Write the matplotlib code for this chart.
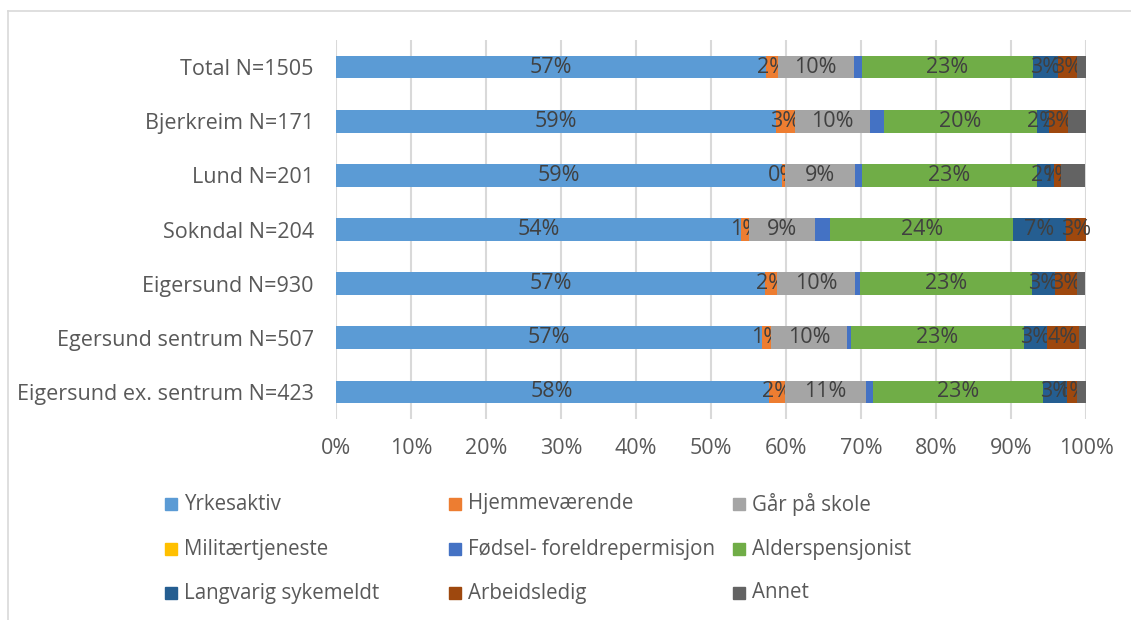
import matplotlib.pyplot as plt
from matplotlib.lines import Line2D
from matplotlib.patches import Rectangle

plt.rcParams['font.family'] = ['Open Sans', 'DejaVu Sans']

# Kategorier (nederst til øverst i grafen)
omraader = ["Eigersund ex. sentrum N=423", "Egersund sentrum N=507", "Eigersund N=930",
            "Sokndal N=204", "Lund N=201", "Bjerkreim N=171", "Total N=1505"]

serier = ["Yrkesaktiv", "Hjemmeværende", "Går på skole", "Militærtjeneste",
          "Fødsel- foreldrepermisjon", "Alderspensjonist", "Langvarig sykemeldt",
          "Arbeidsledig", "Annet"]
farger = ["#5B9BD5", "#ED7D31", "#A5A5A5", "#FFC000", "#4472C4",
          "#70AD47", "#255E91", "#9E480E", "#636363"]

# prosentverdier per serie, samme rekkefølge som omraader
yrkesaktiv = [57.7, 56.8, 57.2, 54.0, 59.4, 58.6, 57.3]
hjemme = [2.2, 1.2, 1.6, 1.1, 0.4, 2.6, 1.6]
skole = [10.7, 10.1, 10.4, 8.7, 9.4, 10.0, 10.1]
militaer = [0.0, 0.0, 0.0, 0.0, 0.0, 0.0, 0.0]
foedsel = [1.0, 0.6, 0.7, 2.1, 0.9, 1.9, 1.1]
alders = [22.7, 23.0, 22.9, 24.4, 23.4, 20.3, 22.8]
sykemeldt = [3.1, 3.1, 3.0, 7.0, 2.2, 1.6, 3.3]
arbeidsledig = [1.4, 4.2, 3.0, 2.7, 0.9, 2.6, 2.6]
annet = [1.2, 1.0, 1.1, 0.0, 3.2, 2.7, 1.3]

verdier = [yrkesaktiv, hjemme, skole, militaer, foedsel, alders, sykemeldt, arbeidsledig, annet]
# serier som får dataetikett
med_etikett = [0, 1, 2, 5, 6, 7]

fs = 15.5

fig = plt.figure(figsize=(11.31, 6.2), dpi=100)
ax = fig.add_axes([336 / 1131, 1 - 419 / 620, 750 / 1131, 379 / 620])

venstre = [0.0] * len(omraader)
for i, (navn, vals) in enumerate(zip(serier, verdier)):
    bars = ax.barh(omraader, vals, left=venstre, height=0.42, color=farger[i], label=navn, zorder=3)
    if i in med_etikett:
        ax.bar_label(bars, labels=[f"{v:.0f}%" for v in vals], label_type="center",
                     fontsize=fs, color="#404040")
    venstre = [a + b for a, b in zip(venstre, vals)]

ax.set_xlim(0, 100)
ax.set_ylim(-0.5, len(omraader) - 0.5)
ax.set_xticks(range(0, 101, 10))
ax.set_xticklabels([f"{t}%" for t in range(0, 101, 10)])
ax.tick_params(axis="both", length=0, labelsize=fs, labelcolor="#595959")
ax.tick_params(axis="y", pad=16)
ax.tick_params(axis="x", pad=14)
ax.grid(axis="x", color="#D9D9D9", linewidth=1.5, zorder=0)
for s in ax.spines.values():
    s.set_visible(False)

# Legende i tre kolonner
kol_x = [165, 449, 733]
rad_y = [504, 549, 593]
for i, navn in enumerate(serier):
    r, k = divmod(i, 3)
    x0 = kol_x[k] / 1131
    y0 = 1 - rad_y[r] / 620
    fig.patches.append(Rectangle((x0, y0 - 6 / 620), 12 / 1131, 12 / 620,
                                 transform=fig.transFigure, color=farger[i]))
    fig.text(x0 + 19 / 1131, y0, navn, fontsize=14.8, color="#595959", va="center", ha="left")

# ramme rundt diagramområdet
fig.lines.append(Line2D([8 / 1131, 8 / 1131], [0, 1 - 11 / 620], transform=fig.transFigure,
                        color="#D9D9D9", linewidth=1.2))
fig.lines.append(Line2D([8 / 1131, 1], [1 - 11 / 620, 1 - 11 / 620], transform=fig.transFigure,
                        color="#D9D9D9", linewidth=1.2))

plt.savefig("out.png", dpi=100)
